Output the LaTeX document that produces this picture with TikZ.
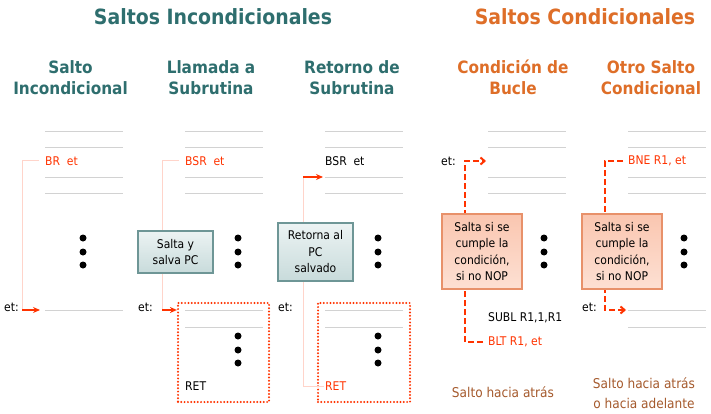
\documentclass[tikz,border=0pt]{standalone}
\usepackage{fontspec}
\setmainfont{DejaVu Sans Condensed}[BoldFont={DejaVu Sans Condensed Bold}]
\usetikzlibrary{arrows.meta}
\definecolor{tealc}{RGB}{46,110,110}
\definecolor{orangec}{RGB}{222,110,40}
\definecolor{redc}{RGB}{255,51,0}
\definecolor{pinkc}{RGB}{255,212,202}
\definecolor{grayl}{RGB}{210,210,210}
\definecolor{brownc}{RGB}{165,90,45}
\definecolor{tealborder}{RGB}{110,150,150}
\definecolor{salmonborder}{RGB}{232,145,106}
\tikzset{
  gline/.style={draw=grayl, line width=1pt},
  txt/.style={inner sep=0pt, anchor=west, font=\fontsize{12}{14}\selectfont},
  redtxt/.style={txt, text=redc},
  bigtitle/.style={inner sep=0pt, font=\fontsize{21}{24}\selectfont\bfseries},
  subtitle/.style={inner sep=0pt, align=center, font=\fontsize{17}{21}\selectfont\bfseries},
  bottomtxt/.style={inner sep=0pt, align=center, text=brownc, font=\fontsize{13.5}{20}\selectfont},
  dotmark/.style={circle, fill=black, inner sep=0pt, minimum size=7pt},
  tealbox/.style={rectangle, draw=tealborder, line width=1.2pt, top color={rgb,255:red,236;green,243;blue,243}, bottom color={rgb,255:red,200;green,219;blue,219}, align=center, inner sep=1pt, font=\fontsize{12}{16.5}\selectfont},
  salmonbox/.style={rectangle, draw=salmonborder, line width=1.2pt, top color={rgb,255:red,250;green,198;blue,176}, bottom color={rgb,255:red,253;green,224;blue,211}, align=center, inner sep=1pt, font=\fontsize{12}{16.5}\selectfont},
  dotbox/.style={rectangle, draw=redc, line width=2.2pt, dash pattern=on 0pt off 3.3pt, line cap=round},
  pinkline/.style={draw=pinkc, line width=1pt},
  redarrow/.style={draw=redc, line width=1.6pt, -{Stealth[length=7pt,width=6pt]}},
  dasharrow/.style={draw=redc, line width=2pt, dash pattern=on 6pt off 3pt, -{Straight Barb[length=4pt,width=7pt]}}
}
\begin{document}
\begin{tikzpicture}[x=1pt,y=-1pt]
\useasboundingbox (0,0) rectangle (711,414);
% titles
\node[bigtitle, text=tealc] (t1) at (213,17) {Saltos Incondicionales};
\node[bigtitle, text=orangec] (t2) at (585,17) {Saltos Condicionales};
\node[subtitle, text=tealc] (s1) at (70.5,77.5) {Salto\\Incondicional};
\node[subtitle, text=tealc] (s2) at (211,77.5) {Llamada a\\Subrutina};
\node[subtitle, text=tealc] (s3) at (352,77.5) {Retorno de\\Subrutina};
\node[subtitle, text=orangec] (s4) at (513,77.5) {Condición de\\Bucle};
\node[subtitle, text=orangec] (s5) at (651,77.5) {Otro Salto\\Condicional};
% gray instruction lines
\foreach \xa/\xb in {45/123,185/263,325/403,488/566,628/706}{
  \foreach \yy in {132,148,177,193}{
    \draw[gline] (\xa,\yy) -- (\xb,\yy);
  }
}
\draw[gline] (45,310) -- (123,310);
\foreach \xa/\xb in {185/263,325/403,628/706}{
  \draw[gline] (\xa,310) -- (\xb,310);
  \draw[gline] (\xa,327) -- (\xb,327);
}
% dots
\foreach \xx in {83,238,378,544,684}{
  \foreach \yy in {238,252,265}{
    \node[dotmark] at (\xx,\yy) {};
  }
}
\foreach \xx in {238,378}{
  \foreach \yy in {336,350,363}{
    \node[dotmark] at (\xx,\yy) {};
  }
}
% ---- column 1
\node[redtxt] (br) at (45,161) {BR\ \ et};
\node[txt] (et1) at (4,307) {et:};
\coordinate (c1a) at (22,310);
\coordinate (c1t) at (40,310);
\draw[pinkline] ([xshift=-6pt]br.west) -| (c1a);
\draw[redarrow] (c1a) -- (c1t);
% ---- column 2
\node[redtxt] (bsr2) at (185,161) {BSR\ \ et};
\node[txt] (et2) at (138,307) {et:};
\node[dotbox, minimum width=91pt, minimum height=99pt] (db2) at (223.5,352.5) {};
\node[txt] (ret2) at (185,386) {RET};
\coordinate (c2a) at (162,310);
\draw[pinkline] ([xshift=-6pt]bsr2.west) -| (c2a);
\draw[redarrow] (c2a) -- (c2a -| db2.west);
\node[tealbox, minimum width=75pt, minimum height=42pt] (b2) at (175.5,252) {Salta y\\salva PC};
% ---- column 3
\node[txt] (bsr3) at (325,161) {BSR\ \ et};
\node[txt] (et3) at (278,307) {et:};
\node[dotbox, minimum width=92pt, minimum height=99pt] (db3) at (364,352.5) {};
\node[redtxt] (ret3) at (325,386) {RET};
\coordinate (c3a) at (303,177);
\coordinate (c3t) at (323,177);
\draw[pinkline] (c3a) |- ([xshift=-1pt]ret3.west);
\draw[redarrow] (c3a) -- (c3t);
\node[tealbox, minimum width=75pt, minimum height=58pt] (b3) at (315.5,252) {Retorna al\\PC\\salvado};
% ---- column 4
\node[txt] (et4) at (441,161) {et:};
\node[txt] (subl) at (488,318) {SUBL R1,1,R1};
\node[redtxt] (blt) at (488,342) {BLT R1, et};
\coordinate (c4b) at (465,161);
\coordinate (c4t) at (486,161);
\draw[dasharrow] ([xshift=-5pt]blt.west) -| (c4b) -- (c4t);
\node[salmonbox, minimum width=80pt, minimum height=75pt] (b4) at (482,251.5) {Salta si se\\cumple la\\condición,\\si no NOP};
\node[bottomtxt] (bt4) at (503,392) {Salto hacia atrás};
% ---- column 5
\node[redtxt] (bne) at (628,161) {BNE R1, et};
\node[txt] (et5) at (582,307) {et:};
\coordinate (c5b) at (605,310);
\coordinate (c5t) at (626,310);
\draw[dasharrow] ([xshift=-5pt]bne.west) -| (c5b) -- (c5t);
\node[salmonbox, minimum width=80pt, minimum height=75pt] (b5) at (622,251.5) {Salta si se\\cumple la\\condición,\\si no NOP};
\node[bottomtxt] (bt5) at (644,393) {Salto hacia atrás\\o hacia adelante};
\end{tikzpicture}
\end{document}
